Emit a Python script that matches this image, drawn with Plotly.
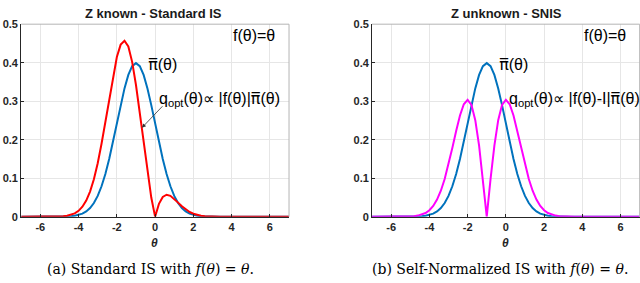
import plotly.graph_objects as go

# theta grid (step 0.2 from -7 to 7)
theta = [round(-7 + 0.2 * i, 1) for i in range(71)]

# target density pi_bar(theta) (blue)
pi_bar = [0, 0, 0, 0, 0, 0.0000, 0.0000, 0.0000, 0.0000, 0.0001,
          0.0001, 0.0003, 0.0006, 0.0012, 0.0024, 0.0044, 0.0079, 0.0136, 0.0224, 0.0355,
          0.0540, 0.0790, 0.1109, 0.1497, 0.1942, 0.2420, 0.2897, 0.3332, 0.3683, 0.3910,
          0.3989, 0.3910, 0.3683, 0.3332, 0.2897, 0.2420, 0.1942, 0.1497, 0.1109, 0.0790,
          0.0540, 0.0355, 0.0224, 0.0136, 0.0079, 0.0044, 0.0024, 0.0012, 0.0006, 0.0003,
          0.0001, 0.0001, 0, 0, 0, 0, 0, 0, 0, 0,
          0, 0, 0, 0, 0, 0, 0, 0, 0, 0, 0]

# q_opt for standard IS (red)
q_is = [0, 0, 0, 0, 0, 0.0000, 0.0000, 0.0001, 0.0001, 0.0003,
        0.0006, 0.0012, 0.0024, 0.0047, 0.0086, 0.0152, 0.0258, 0.0419, 0.0653, 0.0973,
        0.1388, 0.1895, 0.2472, 0.3080, 0.3662, 0.4148, 0.4470, 0.4570, 0.4420, 0.4022,
        0.3420, 0.2682, 0.1894, 0.1143, 0.0497, 0.0, 0.0333, 0.0513, 0.0570, 0.0541,
        0.0463, 0.0365, 0.0269, 0.0186, 0.0122, 0.0076, 0.0045, 0.0025, 0.0014, 0.0007,
        0.0003, 0.0002, 0.0001, 0, 0, 0, 0, 0, 0, 0,
        0, 0, 0, 0, 0, 0, 0, 0, 0, 0, 0]

# q_opt for self-normalized IS (magenta)
q_snis = [0, 0, 0, 0, 0, 0.0000, 0.0000, 0.0001, 0.0001, 0.0003,
          0.0007, 0.0014, 0.0028, 0.0053, 0.0096, 0.0167, 0.0278, 0.0443, 0.0674, 0.0978,
          0.1353, 0.1781, 0.2224, 0.2627, 0.2921, 0.3033, 0.2905, 0.2506, 0.1846, 0.0980,
          0.0, 0.0980, 0.1846, 0.2506, 0.2905, 0.3033, 0.2921, 0.2627, 0.2224, 0.1781,
          0.1353, 0.0978, 0.0674, 0.0443, 0.0278, 0.0167, 0.0096, 0.0053, 0.0028, 0.0014,
          0.0007, 0.0003, 0.0001, 0.0001, 0.0000, 0, 0, 0, 0, 0,
          0, 0, 0, 0, 0, 0, 0, 0, 0, 0, 0]

x_ticks = [-6, -4, -2, 0, 2, 4, 6]
x_ticklabels = ["-6", "-4", "-2", "0", "2", "4", "6"]
y_ticks = [0, 0.1, 0.2, 0.3, 0.4, 0.5]
y_ticklabels = ["0", "0.1", "0.2", "0.3", "0.4", "0.5"]

BLUE = "#0072BD"
RED = "#FF0000"
MAGENTA = "#FF00FF"

fig = go.Figure()
fig.add_trace(go.Scatter(x=theta, y=pi_bar, mode="lines", line=dict(color=BLUE, width=2),
                         xaxis="x", yaxis="y", showlegend=False))
fig.add_trace(go.Scatter(x=theta, y=q_is, mode="lines", line=dict(color=RED, width=2),
                         xaxis="x", yaxis="y", showlegend=False))
fig.add_trace(go.Scatter(x=theta, y=pi_bar, mode="lines", line=dict(color=BLUE, width=2),
                         xaxis="x2", yaxis="y2", showlegend=False))
fig.add_trace(go.Scatter(x=theta, y=q_snis, mode="lines", line=dict(color=MAGENTA, width=2),
                         xaxis="x2", yaxis="y2", showlegend=False))

tickfont = dict(family="Liberation Sans", size=11, color="#262626", weight="bold")
ydom = [0.2226, 0.9329]
xdom1 = [0.0331, 0.4516]
xdom2 = [0.5813, 0.9995]

def xax(dom, anchor):
    return dict(domain=dom, anchor=anchor, range=[-7, 7], tickvals=x_ticks,
                ticktext=x_ticklabels,
                showgrid=True, gridcolor="#e6e6e6", gridwidth=1, zeroline=False,
                showline=True, linecolor="#262626", linewidth=1, mirror=False,
                ticks="inside", ticklen=3, tickcolor="#262626",
                tickfont=tickfont, fixedrange=True)

def yax(anchor):
    return dict(domain=ydom, anchor=anchor, range=[0, 0.5], tickvals=y_ticks,
                ticktext=y_ticklabels, showgrid=True, gridcolor="#e6e6e6", gridwidth=1,
                zeroline=False, showline=True, linecolor="#262626", linewidth=1,
                ticks="inside", ticklen=3, tickcolor="#262626",
                tickfont=tickfont, fixedrange=True)

fig.update_layout(
    width=640, height=283,
    margin=dict(l=0, r=0, t=0, b=0),
    paper_bgcolor="white", plot_bgcolor="white",
    xaxis=xax(xdom1, "y"),
    yaxis=yax("x"),
    xaxis2=xax(xdom2, "y2"),
    yaxis2=yax("x2"),
)

# box (top/right) in light gray
for xd in (xdom1, xdom2):
    fig.add_shape(type="line", xref="paper", yref="paper", x0=xd[0], x1=xd[1],
                  y0=ydom[1], y1=ydom[1], line=dict(color="#b4b4b4", width=1))
    fig.add_shape(type="line", xref="paper", yref="paper", x0=xd[1], x1=xd[1],
                  y0=ydom[0], y1=ydom[1], line=dict(color="#b4b4b4", width=1))

sans = "Liberation Sans"
serif = "DejaVu Serif"
PIBAR = "<span style='font-family:DejaVu Sans'>π\u0305</span>"

annotations = []
def add_text(text, x, y, size, family=sans, xanchor="center", color="#000000"):
    annotations.append(dict(text=text, x=x / 640, y=1 - y / 283, xref="paper", yref="paper",
                            showarrow=False, xanchor=xanchor, yanchor="middle",
                            font=dict(family=family, size=size, color=color)))

add_text("<b>Z known - Standard IS</b>", 153, 8, 13, color="#1a1a1a")
add_text("<b>Z unknown - SNIS</b>", 506, 8, 13, color="#1a1a1a")
add_text("<b><i>θ</i></b>", 154, 248, 12, color="#262626")
add_text("<b><i>θ</i></b>", 505, 248, 12, color="#262626")
add_text("f(θ)=θ", 231, 31, 16, xanchor="left")
add_text("f(θ)=θ", 582, 31, 16, xanchor="left")
add_text(PIBAR + "(θ)", 146, 61, 16, xanchor="left")
add_text(PIBAR + "(θ)", 497, 61, 16, xanchor="left")
add_text("q<sub>opt</sub>(θ)∝ |f(θ)|" + PIBAR + "(θ)", 157, 97, 16, xanchor="left")
add_text("q<sub>opt</sub>(θ)∝ |f(θ)-I|" + PIBAR + "(θ)", 507, 97, 16, xanchor="left")
add_text("(a) Standard IS with <i>f</i>(<i>θ</i>) = <i>θ</i>.", 150, 275, 14, family=serif)
add_text("(b) Self-Normalized IS with <i>f</i>(<i>θ</i>) = <i>θ</i>.", 500, 275, 14, family=serif)

# arrow pointing to the red curve
annotations.append(dict(x=-0.69, y=0.231, xref="x", yref="y", ax=22, ay=-23,
                        axref="pixel", ayref="pixel", text="", showarrow=True,
                        arrowhead=2, arrowsize=1, arrowwidth=0.8, arrowcolor="#333333"))

fig.update_layout(annotations=annotations)
fig.write_html("out.html", config={"displayModeBar": False},
               post_script="document.body.style.margin='0px';")
